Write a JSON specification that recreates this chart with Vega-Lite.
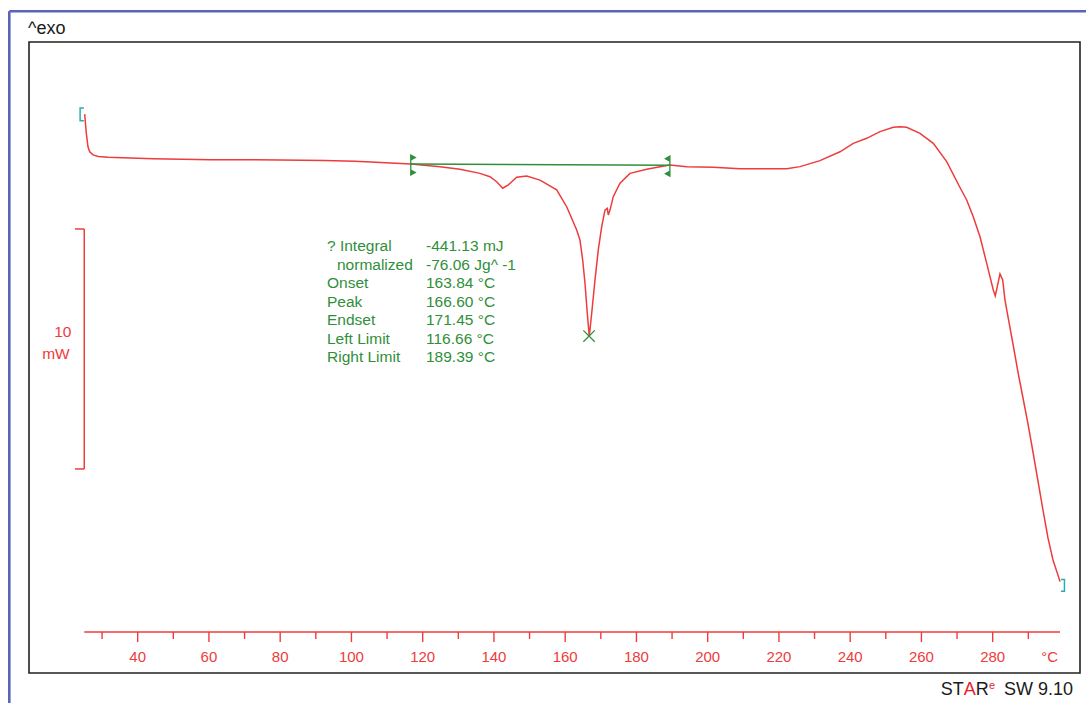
{
  "$schema": "https://vega.github.io/schema/vega-lite/v6.json",
  "width": 1051,
  "height": 631,
  "autosize": {"type": "none"},
  "padding": {"left": 29, "top": 42, "right": 6, "bottom": 30},
  "background": "white",
  "config": {
    "view": {"stroke": "#222222", "strokeWidth": 1.6},
    "font": "Liberation Sans",
    "text": {"font": "Liberation Sans"}
  },
  "data": {"values": [{}]},
  "datasets": {
    "curve": [
      {"T": 25.12, "mW": 9.83}, {"T": 25.57, "mW": 9.04}, {"T": 26.05, "mW": 8.47}, {"T": 26.53, "mW": 8.26},
      {"T": 27.45, "mW": 8.13}, {"T": 29.0, "mW": 8.06}, {"T": 31.66, "mW": 8.03}, {"T": 44.29, "mW": 7.97},
      {"T": 60.58, "mW": 7.93}, {"T": 80.0, "mW": 7.92}, {"T": 92.49, "mW": 7.9}, {"T": 100.91, "mW": 7.86},
      {"T": 105.49, "mW": 7.83}, {"T": 111.0, "mW": 7.79}, {"T": 116.72, "mW": 7.75}, {"T": 124.86, "mW": 7.64},
      {"T": 130.47, "mW": 7.53}, {"T": 136.08, "mW": 7.36}, {"T": 138.89, "mW": 7.22}, {"T": 140.77, "mW": 7.01},
      {"T": 142.46, "mW": 6.74}, {"T": 144.03, "mW": 6.88}, {"T": 146.39, "mW": 7.2}, {"T": 149.19, "mW": 7.25},
      {"T": 152.93, "mW": 7.08}, {"T": 157.61, "mW": 6.67}, {"T": 160.42, "mW": 5.97}, {"T": 163.23, "mW": 5.0},
      {"T": 164.15, "mW": 4.58}, {"T": 164.91, "mW": 3.75}, {"T": 165.56, "mW": 2.78}, {"T": 166.2, "mW": 1.53},
      {"T": 166.76, "mW": 0.58}, {"T": 167.44, "mW": 1.53}, {"T": 168.37, "mW": 2.92}, {"T": 169.29, "mW": 4.17},
      {"T": 170.25, "mW": 5.14}, {"T": 171.17, "mW": 5.83}, {"T": 171.82, "mW": 5.9}, {"T": 172.1, "mW": 5.63},
      {"T": 172.58, "mW": 5.83}, {"T": 173.5, "mW": 6.39}, {"T": 175.38, "mW": 6.95}, {"T": 178.19, "mW": 7.36},
      {"T": 182.88, "mW": 7.53}, {"T": 186.61, "mW": 7.64}, {"T": 189.42, "mW": 7.71}, {"T": 194.11, "mW": 7.64},
      {"T": 201.57, "mW": 7.61}, {"T": 209.07, "mW": 7.55}, {"T": 216.56, "mW": 7.55}, {"T": 222.18, "mW": 7.55},
      {"T": 225.91, "mW": 7.64}, {"T": 231.52, "mW": 7.89}, {"T": 237.14, "mW": 8.26}, {"T": 240.87, "mW": 8.61},
      {"T": 244.63, "mW": 8.82}, {"T": 248.36, "mW": 9.1}, {"T": 252.1, "mW": 9.28}, {"T": 254.0, "mW": 9.3},
      {"T": 255.86, "mW": 9.28}, {"T": 259.59, "mW": 9.03}, {"T": 263.33, "mW": 8.61}, {"T": 267.09, "mW": 7.85},
      {"T": 270.82, "mW": 6.77}, {"T": 272.7, "mW": 6.25}, {"T": 274.55, "mW": 5.55}, {"T": 276.44, "mW": 4.72},
      {"T": 278.32, "mW": 3.61}, {"T": 280.17, "mW": 2.5}, {"T": 280.73, "mW": 2.25}, {"T": 281.29, "mW": 2.64},
      {"T": 282.05, "mW": 3.17}, {"T": 282.81, "mW": 2.92}, {"T": 283.45, "mW": 2.08}, {"T": 284.38, "mW": 1.32},
      {"T": 285.7, "mW": 0.25}, {"T": 287.1, "mW": -0.92}, {"T": 288.51, "mW": -2.0}, {"T": 289.91, "mW": -3.08},
      {"T": 291.31, "mW": -4.25}, {"T": 292.72, "mW": -5.46}, {"T": 294.12, "mW": -6.67}, {"T": 295.52, "mW": -7.83},
      {"T": 296.93, "mW": -8.75}, {"T": 298.33, "mW": -9.38}, {"T": 298.89, "mW": -9.65}
    ],
    "base": [{"T": 116.66, "mW": 7.75}, {"T": 189.39, "mW": 7.7}],
    "minor": [
      {"T": 30}, {"T": 50}, {"T": 70}, {"T": 90}, {"T": 110}, {"T": 130}, {"T": 150},
      {"T": 170}, {"T": 190}, {"T": 210}, {"T": 230}, {"T": 250}, {"T": 270}, {"T": 290}
    ],
    "major": [
      {"T": 40}, {"T": 60}, {"T": 80}, {"T": 100}, {"T": 120}, {"T": 140}, {"T": 160},
      {"T": 180}, {"T": 200}, {"T": 220}, {"T": 240}, {"T": 260}, {"T": 280}
    ]
  },
  "layer": [
    {
      "data": {"name": "curve"},
      "mark": {"type": "line", "color": "#EE3B3B", "strokeWidth": 1.5, "interpolate": "linear"},
      "encoding": {
        "x": {"field": "T", "type": "quantitative", "scale": {"domain": [9.49, 304.51], "nice": false, "zero": false}, "axis": null},
        "y": {"field": "mW", "type": "quantitative", "scale": {"domain": [-13.4583, 12.8333], "nice": false, "zero": false}, "axis": null}
      }
    },
    {
      "mark": {"type": "rule", "color": "#5B65B7", "strokeWidth": 2.6},
      "encoding": {
        "x": {"datum": 3.96, "type": "quantitative", "axis": null},
        "x2": {"datum": 320},
        "y": {"datum": 14.117, "type": "quantitative", "axis": null}
      }
    },
    {
      "mark": {"type": "rule", "color": "#5B65B7", "strokeWidth": 2.6},
      "encoding": {
        "x": {"datum": 3.96, "type": "quantitative", "axis": null},
        "y": {"datum": 14.117, "type": "quantitative", "axis": null},
        "y2": {"datum": -16}
      }
    },
    {
      "data": {"name": "minor"},
      "mark": {"type": "rule", "color": "#EE3B3B", "strokeWidth": 1.4},
      "encoding": {
        "x": {"field": "T", "type": "quantitative", "axis": null},
        "y": {"datum": -11.75, "type": "quantitative", "axis": null},
        "y2": {"datum": -12.04}
      }
    },
    {
      "data": {"name": "major"},
      "mark": {"type": "rule", "color": "#EE3B3B", "strokeWidth": 1.4},
      "encoding": {
        "x": {"field": "T", "type": "quantitative", "axis": null},
        "y": {"datum": -11.75, "type": "quantitative", "axis": null},
        "y2": {"datum": -12.17}
      }
    },
    {
      "data": {"name": "major"},
      "mark": {"type": "text", "align": "center", "baseline": "middle", "color": "#EE3B3B", "fontSize": 15},
      "encoding": {
        "x": {"field": "T", "type": "quantitative", "axis": null},
        "y": {"datum": -12.79, "type": "quantitative", "axis": null},
        "text": {"field": "T", "type": "quantitative", "format": "d"}
      }
    },
    {
      "mark": {"type": "rule", "color": "#EE3B3B", "strokeWidth": 1.5},
      "encoding": {
        "x": {"datum": 25, "type": "quantitative", "axis": null},
        "x2": {"datum": 298.9},
        "y": {"datum": -11.75, "type": "quantitative", "axis": null}
      }
    },
    {
      "mark": {"type": "text", "text": "°C", "align": "center", "baseline": "middle", "color": "#EE3B3B", "fontSize": 15},
      "encoding": {
        "x": {"datum": 296.0, "type": "quantitative", "axis": null},
        "y": {"datum": -12.79, "type": "quantitative", "axis": null}
      }
    },
    {
      "mark": {"type": "rule", "color": "#EE3B3B", "strokeWidth": 1.5},
      "encoding": {
        "x": {"datum": 25, "type": "quantitative", "axis": null},
        "y": {"datum": 5.042, "type": "quantitative", "axis": null},
        "y2": {"datum": -4.958}
      }
    },
    {
      "mark": {"type": "rule", "color": "#EE3B3B", "strokeWidth": 1.5},
      "encoding": {
        "x": {"datum": 22.4, "type": "quantitative", "axis": null},
        "x2": {"datum": 25},
        "y": {"datum": 5.042, "type": "quantitative", "axis": null}
      }
    },
    {
      "mark": {"type": "rule", "color": "#EE3B3B", "strokeWidth": 1.5},
      "encoding": {
        "x": {"datum": 22.4, "type": "quantitative", "axis": null},
        "x2": {"datum": 25},
        "y": {"datum": -4.958, "type": "quantitative", "axis": null}
      }
    },
    {
      "mark": {"type": "text", "text": "10", "color": "#EE3B3B", "fontSize": 15.5, "align": "center", "baseline": "middle"},
      "encoding": {
        "x": {"datum": 19.0, "type": "quantitative", "axis": null},
        "y": {"datum": 0.754, "type": "quantitative", "axis": null}
      }
    },
    {
      "mark": {"type": "text", "text": "mW", "color": "#EE3B3B", "fontSize": 15.5, "align": "center", "baseline": "middle"},
      "encoding": {
        "x": {"datum": 17.05, "type": "quantitative", "axis": null},
        "y": {"datum": -0.15, "type": "quantitative", "axis": null}
      }
    },
    {
      "data": {"name": "base"},
      "mark": {"type": "line", "color": "#2F8F3A", "strokeWidth": 1.5},
      "encoding": {
        "x": {"field": "T", "type": "quantitative", "axis": null},
        "y": {"field": "mW", "type": "quantitative", "axis": null}
      }
    },
    {
      "mark": {"type": "point", "shape": "M0,-1L0,1M0,-1L0.45,-0.75L0,-0.5ZM0,1L0.45,0.75L0,0.5Z", "size": 400, "filled": true, "color": "#2F8F3A", "stroke": "#2F8F3A", "strokeWidth": 1.3, "opacity": 1},
      "encoding": {
        "x": {"datum": 116.66, "type": "quantitative", "axis": null},
        "y": {"datum": 7.708, "type": "quantitative", "axis": null}
      }
    },
    {
      "mark": {"type": "point", "shape": "M0,-1L0,1M0,-1L-0.45,-0.75L0,-0.5ZM0,1L-0.45,0.75L0,0.5Z", "size": 400, "filled": true, "color": "#2F8F3A", "stroke": "#2F8F3A", "strokeWidth": 1.3, "opacity": 1},
      "encoding": {
        "x": {"datum": 189.39, "type": "quantitative", "axis": null},
        "y": {"datum": 7.66, "type": "quantitative", "axis": null}
      }
    },
    {
      "mark": {"type": "point", "shape": "M0.3,-1L-0.3,-1L-0.3,1L0.3,1", "size": 160, "filled": false, "stroke": "#2AAFB0", "strokeWidth": 1.5, "opacity": 1},
      "encoding": {
        "x": {"datum": 24.37, "type": "quantitative", "axis": null},
        "y": {"datum": 9.82, "type": "quantitative", "axis": null}
      }
    },
    {
      "mark": {"type": "point", "shape": "M-0.3,-1L0.3,-1L0.3,1L-0.3,1", "size": 140, "filled": false, "stroke": "#2AAFB0", "strokeWidth": 1.5, "opacity": 1},
      "encoding": {
        "x": {"datum": 299.65, "type": "quantitative", "axis": null},
        "y": {"datum": -9.81, "type": "quantitative", "axis": null}
      }
    },
    {
      "mark": {"type": "point", "shape": "M-1,-1L1,1M-1,1L1,-1", "size": 130, "filled": false, "stroke": "#2F8F3A", "strokeWidth": 1.3, "opacity": 1},
      "encoding": {
        "x": {"datum": 166.7, "type": "quantitative", "axis": null},
        "y": {"datum": 0.58, "type": "quantitative", "axis": null}
      }
    },
    {
      "mark": {"type": "text", "align": "left", "baseline": "top", "color": "#2F8F3A", "fontSize": 15.5, "text": "? Integral"},
      "encoding": {
        "x": {"datum": 93.14, "type": "quantitative", "axis": null},
        "y": {"datum": 4.6125, "type": "quantitative", "axis": null}
      }
    },
    {
      "mark": {"type": "text", "align": "left", "baseline": "top", "color": "#2F8F3A", "fontSize": 15.5, "text": "normalized"},
      "encoding": {
        "x": {"datum": 95.94, "type": "quantitative", "axis": null},
        "y": {"datum": 3.844, "type": "quantitative", "axis": null}
      }
    },
    {
      "mark": {
        "type": "text", "align": "left", "baseline": "top", "color": "#2F8F3A", "fontSize": 15.5, "lineHeight": 18.45,
        "text": ["Onset", "Peak", "Endset", "Left Limit", "Right Limit"]
      },
      "encoding": {
        "x": {"datum": 93.14, "type": "quantitative", "axis": null},
        "y": {"datum": 3.075, "type": "quantitative", "axis": null}
      }
    },
    {
      "mark": {
        "type": "text", "align": "left", "baseline": "top", "color": "#2F8F3A", "fontSize": 15.5, "lineHeight": 18.45,
        "text": ["-441.13 mJ", "-76.06 Jg^ -1", "163.84 °C", "166.60 °C", "171.45 °C", "116.66 °C", "189.39 °C"]
      },
      "encoding": {
        "x": {"datum": 120.93, "type": "quantitative", "axis": null},
        "y": {"datum": 4.6125, "type": "quantitative", "axis": null}
      }
    },
    {
      "mark": {"type": "text", "text": "^exo", "align": "left", "baseline": "middle", "color": "#1a1a1a", "fontSize": 18},
      "encoding": {
        "x": {"datum": 9.21, "type": "quantitative", "axis": null},
        "y": {"datum": 13.36, "type": "quantitative", "axis": null}
      }
    },
    {
      "mark": {"type": "text", "text": "ST", "align": "left", "baseline": "alphabetic", "color": "#1a1a1a", "fontSize": 18},
      "encoding": {
        "x": {"datum": 265.4, "type": "quantitative", "axis": null},
        "y": {"datum": -14.375, "type": "quantitative", "axis": null}
      }
    },
    {
      "mark": {"type": "text", "text": "A", "align": "left", "baseline": "alphabetic", "color": "#E8202A", "fontSize": 18},
      "encoding": {
        "x": {"datum": 271.86, "type": "quantitative", "axis": null},
        "y": {"datum": -14.375, "type": "quantitative", "axis": null}
      }
    },
    {
      "mark": {"type": "text", "text": "R", "align": "left", "baseline": "alphabetic", "color": "#1a1a1a", "fontSize": 18},
      "encoding": {
        "x": {"datum": 275.23, "type": "quantitative", "axis": null},
        "y": {"datum": -14.375, "type": "quantitative", "axis": null}
      }
    },
    {
      "mark": {"type": "text", "text": "e", "align": "left", "baseline": "alphabetic", "color": "#E8202A", "fontSize": 11},
      "encoding": {
        "x": {"datum": 279.0, "type": "quantitative", "axis": null},
        "y": {"datum": -14.1375, "type": "quantitative", "axis": null}
      }
    },
    {
      "mark": {"type": "text", "text": "SW 9.10", "align": "right", "baseline": "alphabetic", "color": "#1a1a1a", "fontSize": 18},
      "encoding": {
        "x": {"datum": 302.54, "type": "quantitative", "axis": null},
        "y": {"datum": -14.375, "type": "quantitative", "axis": null}
      }
    }
  ]
}
